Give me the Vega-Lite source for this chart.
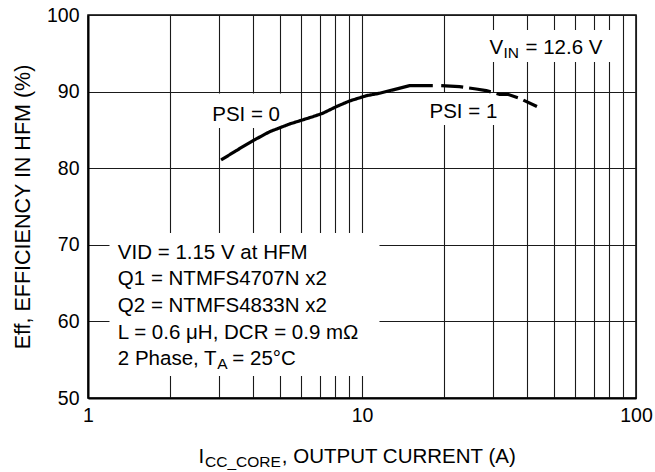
{
  "$schema": "https://vega.github.io/schema/vega-lite/v6.json",
  "width": 548,
  "height": 383,
  "autosize": {"type": "none"},
  "padding": {"left": 88, "top": 15, "right": 19, "bottom": 74},
  "background": "white",
  "config": {
    "font": "Liberation Sans",
    "view": {"stroke": "black", "strokeWidth": 1.5},
    "axis": {
      "domainColor": "black",
      "domainWidth": 2,
      "gridColor": "#1a1a1a",
      "gridWidth": 1.1,
      "gridOpacity": 1,
      "ticks": false,
      "labelColor": "black",
      "labelFont": "Liberation Sans",
      "labelFontSize": 19.5,
      "labelFlush": false,
      "labelOverlap": false,
      "titleColor": "black",
      "titleFont": "Liberation Sans",
      "titleFontSize": 21.5,
      "titleFontWeight": "normal"
    },
    "text": {"font": "Liberation Sans", "color": "black"}
  },
  "datasets": {
    "curve": [
      {"x": 3.06, "y": 81.07, "mode": "PSI = 0"},
      {"x": 3.47, "y": 82.28, "mode": "PSI = 0"},
      {"x": 4.0, "y": 83.59, "mode": "PSI = 0"},
      {"x": 4.6, "y": 84.76, "mode": "PSI = 0"},
      {"x": 5.44, "y": 85.77, "mode": "PSI = 0"},
      {"x": 6.61, "y": 86.72, "mode": "PSI = 0"},
      {"x": 7.19, "y": 87.17, "mode": "PSI = 0"},
      {"x": 8.05, "y": 88.03, "mode": "PSI = 0"},
      {"x": 9.0, "y": 88.77, "mode": "PSI = 0"},
      {"x": 10.36, "y": 89.46, "mode": "PSI = 0"},
      {"x": 11.58, "y": 89.78, "mode": "PSI = 0"},
      {"x": 14.91, "y": 90.77, "mode": "PSI = 0"},
      {"x": 18.13, "y": 90.77, "mode": "PSI = 0"},
      {"x": 19.46, "y": 90.77, "mode": "PSI = 1"},
      {"x": 22.69, "y": 90.64, "mode": "PSI = 1"},
      {"x": 26.11, "y": 90.34, "mode": "PSI = 1"},
      {"x": 28.4, "y": 90.12, "mode": "PSI = 1"},
      {"x": 31.77, "y": 89.65, "mode": "PSI = 1"},
      {"x": 34.05, "y": 89.65, "mode": "PSI = 1"},
      {"x": 37.57, "y": 89.13, "mode": "PSI = 1"},
      {"x": 43.5, "y": 88.06, "mode": "PSI = 1"}
    ],
    "boxes": [
      {"x": 2.73, "x2v": 5.26, "y": 89.75, "y2v": 85.25},
      {"x": 16.91, "x2v": 31.77, "y": 89.82, "y2v": 85.64},
      {"x": 27.3, "x2v": 82.8, "y": 98.04, "y2v": 93.86},
      {"x": 1.198, "x2v": 11.58, "y": 71.54, "y2v": 52.87}
    ],
    "notes": [
      {"label": "PSI = 0", "x": 2.84, "y": 86.2},
      {"label": "PSI = 1", "x": 17.63, "y": 86.55},
      {"label": "V", "x": 29.19, "y": 94.93},
      {"label": "= 12.6 V", "x": 39.52, "y": 94.93},
      {"label": "VID = 1.15 V at HFM", "x": 1.285, "y": 68.21},
      {"label": "Q1 = NTMFS4707N x2", "x": 1.285, "y": 64.73},
      {"label": "Q2 = NTMFS4833N x2", "x": 1.285, "y": 61.24},
      {"label": "L = 0.6 μH, DCR = 0.9 mΩ", "x": 1.285, "y": 57.75},
      {"label": "2 Phase, T", "x": 1.285, "y": 54.27},
      {"label": "= 25°C", "x": 3.364, "y": 54.27},
      {"label": "I", "x": 2.531, "y": 41.45},
      {"label": ", OUTPUT CURRENT (A)", "x": 5.1, "y": 41.45}
    ],
    "subs": [
      {"label": "IN", "x": 32.85, "y": 94.93},
      {"label": "A", "x": 2.964, "y": 54.27},
      {"label": "CC_CORE", "x": 2.673, "y": 41.45}
    ]
  },
  "encoding": {
    "x": {
      "field": "x",
      "type": "quantitative",
      "scale": {"type": "log", "domain": [1, 100], "nice": false},
      "axis": {
        "title": null,
        "grid": true,
        "values": [1, 2, 3, 4, 5, 6, 7, 8, 9, 10, 20, 30, 40, 50, 60, 70, 80, 90, 100],
        "labelExpr": "datum.value == 1 || datum.value == 10 || datum.value == 100 ? format(datum.value, 'd') : ''",
        "labelPadding": 8
      }
    },
    "y": {
      "field": "y",
      "type": "quantitative",
      "scale": {"domain": [50, 100], "nice": false, "zero": false},
      "axis": {
        "title": "Eff, EFFICIENCY IN HFM (%)",
        "grid": true,
        "values": [50, 60, 70, 80, 90, 100],
        "labelPadding": 9,
        "titlePadding": 12
      }
    }
  },
  "layer": [
    {
      "data": {"name": "boxes"},
      "mark": {"type": "rect", "fill": "white", "strokeWidth": 0},
      "encoding": {
        "x2": {"field": "x2v"},
        "y2": {"field": "y2v"}
      }
    },
    {
      "data": {"name": "curve"},
      "mark": {"type": "line", "color": "black", "strokeWidth": 3.2, "strokeCap": "butt"},
      "encoding": {
        "strokeDash": {
          "field": "mode",
          "type": "nominal",
          "scale": {"domain": ["PSI = 0", "PSI = 1"], "range": [[1, 0], [22, 6]]},
          "legend": null
        }
      }
    },
    {
      "data": {"name": "notes"},
      "mark": {"type": "text", "align": "left", "baseline": "alphabetic", "fontSize": 20.5, "color": "black"},
      "encoding": {"text": {"field": "label"}}
    },
    {
      "data": {"name": "subs"},
      "mark": {"type": "text", "align": "left", "baseline": "alphabetic", "fontSize": 15.5, "dy": 4, "color": "black"},
      "encoding": {"text": {"field": "label"}}
    }
  ]
}
